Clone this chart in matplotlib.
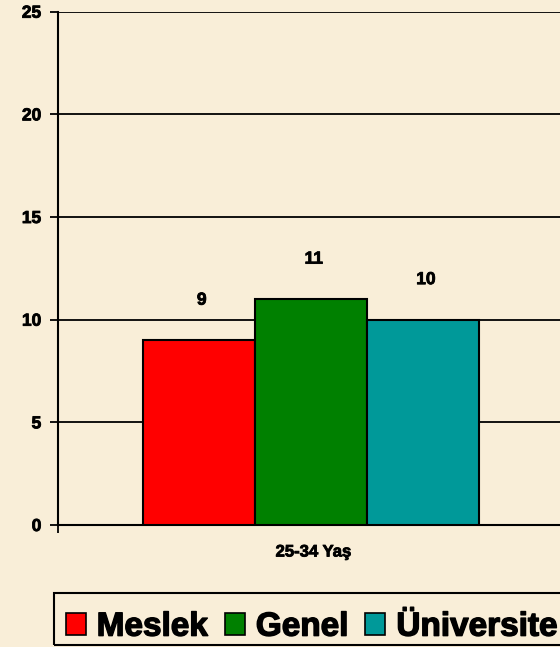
import matplotlib
matplotlib.use('Agg')
import matplotlib.pyplot as plt
import matplotlib.patheffects as pe
from matplotlib.patches import Patch, Rectangle
from matplotlib.transforms import blended_transform_factory

series_names = ['Meslek', 'Genel', 'Üniversite']
values = [9, 11, 10]
colors = ['#FF0000', '#008000', '#009999']
category = '25-34 Yaş'
y_ticks = [0, 5, 10, 15, 20, 25]

bg = '#F9EED8'
plt.rcParams['font.family'] = ['Liberation Sans', 'DejaVu Sans']
plt.rcParams['font.weight'] = 'bold'
heavy = [pe.withStroke(linewidth=0.6, foreground='black')]
heavier = [pe.withStroke(linewidth=1.0, foreground='black')]

W, H = 560, 647
fig = plt.figure(figsize=(W / 100, H / 100), dpi=100, facecolor=bg)
ax = fig.add_axes([58 / W, 122 / H, 505.6 / W, 513.3 / H])
ax.set_facecolor(bg)

bar_w = 0.2217
offsets = [-bar_w, 0, bar_w]
for name, val, col, off in zip(series_names, values, colors, offsets):
    ax.bar(off, val, width=bar_w, color=col, edgecolor='black', linewidth=1.5, zorder=3)
    ax.text(off + 0.006, val + 1.95, str(val), ha='center', va='center',
            fontsize=12.5, fontweight='bold', zorder=4, path_effects=heavy)

ax.set_xlim(-0.5, 0.5)
ax.set_ylim(0, 25)
ax.set_yticks(y_ticks)
ax.set_yticklabels([str(t) for t in y_ticks], fontsize=12.5, fontweight='bold')
for lbl in ax.get_yticklabels():
    lbl.set_path_effects(heavy)
ax.yaxis.grid(True, color='black', linewidth=1.3, zorder=0)
ax.set_axisbelow(True)
ax.set_xticks([-0.5, 0.5])
ax.set_xticklabels(['', ''])
ax.tick_params(axis='both', length=6, width=1.3, color='black', pad=6)
for s in ['top', 'right']:
    ax.spines[s].set_visible(False)
for s in ['left', 'bottom']:
    ax.spines[s].set_linewidth(1.5)

trans = blended_transform_factory(ax.transData, ax.transAxes)
ax.text(0.005, -0.0526, category, transform=trans, ha='center', va='center',
        fontsize=12, fontweight='bold', path_effects=heavy)

# legend frame runs past the right edge of the picture
fig.add_artist(Rectangle((54 / W, 1 - 645 / H), 530 / W, 52 / H,
                         transform=fig.transFigure, facecolor='none',
                         edgecolor='black', linewidth=1.5))
handles = [Patch(facecolor=c, edgecolor='black', linewidth=1.2) for c in colors]
leg = fig.legend(handles, series_names, loc='upper left', ncol=3,
                 bbox_to_anchor=(54 / W, 1 - 600 / H), borderaxespad=0,
                 prop={'size': 24, 'weight': 'bold'},
                 handlelength=0.6, handleheight=0.6, handletextpad=0.33,
                 columnspacing=0.5, borderpad=0.35, frameon=False)
for t in leg.get_texts():
    t.set_path_effects(heavier)

fig.savefig('out.png', dpi=100, facecolor=bg)
